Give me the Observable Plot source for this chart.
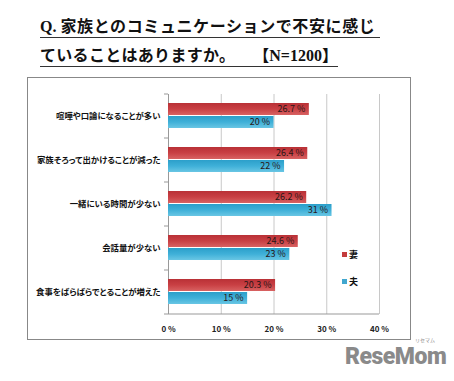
<!DOCTYPE html>
<html><head><meta charset="utf-8">
<script src="https://cdn.jsdelivr.net/npm/d3@7"></script>
<script src="https://cdn.jsdelivr.net/npm/@observablehq/plot@0.6"></script>
<style>
html,body{margin:0;padding:0;background:#fff;}
#wrap{position:relative;width:454px;height:381px;overflow:hidden;font-family:"Noto Sans CJK JP",sans-serif;}
.t{position:absolute;left:40px;font-size:16px;font-weight:bold;color:#111;white-space:nowrap;font-family:"Liberation Serif","Noto Sans CJK JP",serif;border-bottom:1.5px solid #333;line-height:18px;padding-bottom:1px;}
.jp{font-family:"Noto Sans CJK JP",sans-serif;font-weight:bold;}
#box{position:absolute;left:27px;top:77px;width:382px;height:261px;border:1px solid #888;}
#chart{position:absolute;left:0;top:0;}
.lg{position:absolute;left:342px;font-size:9px;font-weight:bold;color:#111;line-height:10px;}
.lg span{display:inline-block;width:5px;height:5px;margin-right:2px;vertical-align:1px;}
#wm{position:absolute;left:345px;top:343px;font-family:"Roboto","DejaVu Sans",sans-serif;font-weight:900;font-size:23px;color:#8a8a8a;letter-spacing:-0.5px;}
#wm small{position:absolute;left:70px;top:-7px;font-size:5px;font-weight:normal;letter-spacing:0;font-family:"Noto Sans CJK JP",sans-serif;}
</style></head>
<body>
<div id="wrap">
  <div class="t" style="top:16px;padding-right:5px;">Q. <span class="jp" style="letter-spacing:0.6px;">家族とのコミュニケーションで不安に感じ</span></div>
  <div class="t" style="top:45px;padding-right:0px;"><span class="jp" style="letter-spacing:0.3px;">ていることはありますか。</span><span style="display:inline-block;width:18px;"></span><span>【N=1200】</span></div>
  <div id="box"></div>
  <div id="chart"></div>
  <div class="lg" style="top:250px;"><span style="background:#c43c3c"></span>妻</div>
  <div class="lg" style="top:277px;"><span style="background:#41a7cf"></span>夫</div>
  <div id="wm">ReseMom<small>リセマム</small></div>
</div>
<script>
const categories = ["喧嘩や口論になることが多い","家族そろって出かけることが減った","一緒にいる時間が少ない","会話量が少ない","食事をばらばらでとることが増えた"];
const series = ["妻","夫"];
const wife = [26.7, 26.4, 26.2, 24.6, 20.3];
const husband = [20, 22, 31, 23, 15];
const xTicks = [0, 10, 20, 30, 40];
const colors = ["#c43c3c", "#41a7cf"];
const gradStops = [["#b93136", "#c94044", "#d86262"], ["#2c9fca", "#3fb0d8", "#69c6e4"]];

const data = categories.flatMap((c, i) => [
  {category: c, series: series[0], value: wife[i]},
  {category: c, series: series[1], value: husband[i]}
]);

const plot = Plot.plot({
  width: 454, height: 381,
  marginLeft: 168, marginRight: 75, marginTop: 93, marginBottom: 66,
  style: {fontFamily: "'Noto Sans CJK JP', sans-serif", background: "transparent"},
  x: {domain: [0, 40], label: null},
  fy: {domain: categories, padding: 0, label: null},
  y: {domain: series, paddingInner: 0.05, paddingOuter: 0.67, axis: null},
  color: {domain: series, range: series.map((s, i) => `url(#grad${i})`)},
  marks: [
    Plot.gridX({ticks: xTicks.slice(1), stroke: "#c8c8c8", strokeOpacity: 1}),
    Plot.ruleX([0], {stroke: "#999"}),
    Plot.barX(data, {x: "value", y: "series", fy: "category", fill: "series"}),
    Plot.text(data, {x: "value", y: "series", fy: "category", text: d => d.value + " %", textAnchor: "end", dx: -4, fill: "#2a1616", fontSize: 9}),
    Plot.axisX({ticks: xTicks, tickFormat: d => d + " %", tickSize: 0, tickPadding: 12, fontWeight: "bold", fontSize: 8, fill: "#222"}),
    Plot.axisFy({anchor: "left", tickSize: 0, tickPadding: 8, fontWeight: "bold", fontSize: 8.4, fill: "#111", label: null})
  ]
});
document.getElementById("chart").appendChild(plot);

const svg = d3.select(plot);
const defs = svg.insert("defs", ":first-child");
gradStops.forEach((stops, i) => {
  const lg = defs.append("linearGradient").attr("id", `grad${i}`).attr("x1", 0).attr("x2", 0).attr("y1", 0).attr("y2", 1);
  stops.forEach((c, j) => lg.append("stop").attr("offset", j / (stops.length - 1)).attr("stop-color", c));
});

// category boundary ticks and bottom axis line, from the plot's scales
const fy = plot.scale("fy"), x = plot.scale("x");
const bounds = categories.map(c => fy.apply(c)).concat([fy.apply(categories[categories.length - 1]) + fy.bandwidth]);
const g = svg.append("g").attr("stroke", "#999");
g.selectAll("line.tk").data(bounds).join("line")
  .attr("x1", x.apply(0) - 4).attr("x2", x.apply(0))
  .attr("y1", d => d).attr("y2", d => d);
g.append("line")
  .attr("x1", x.apply(0)).attr("x2", x.apply(40))
  .attr("y1", bounds[bounds.length - 1]).attr("y2", bounds[bounds.length - 1]);
svg.selectAll("text").style("font-feature-settings", "'palt'");
</script>
</body></html>
